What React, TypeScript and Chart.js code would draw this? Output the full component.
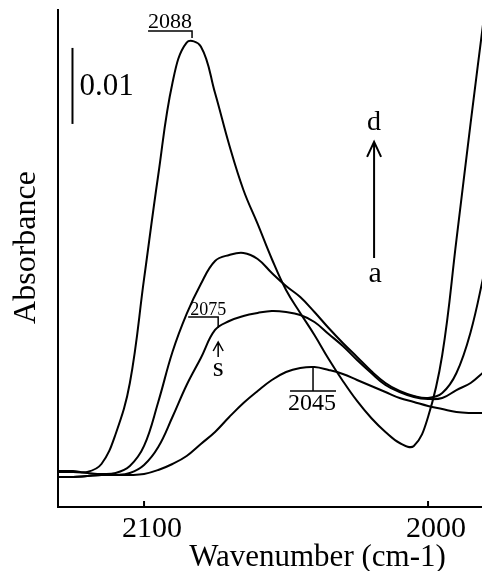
import React, { useEffect, useRef } from "react";
import { Chart, registerables } from "chart.js";

Chart.register(...registerables);

// Wavenumber grid (cm-1)
const wavenumbers = [
  2130, 2125, 2120, 2115, 2110, 2105, 2100, 2095, 2090, 2085, 2080, 2075, 2070, 2065, 2060, 2055,
  2050, 2045, 2040, 2035, 2030, 2025, 2020, 2015, 2010, 2005, 2000, 1995, 1990, 1985, 1980,
];

// Absorbance spectra a -> d
const absA = [
  0.00395, 0.00395, 0.00408, 0.00421, 0.00421, 0.00421, 0.00434, 0.00487, 0.00566, 0.00671, 0.00829,
  0.00987, 0.01184, 0.01368, 0.01526, 0.01671, 0.01776, 0.01829, 0.01842, 0.01803, 0.0175, 0.01671,
  0.01592, 0.01513, 0.01434, 0.01382, 0.01329, 0.01289, 0.0125, 0.01237, 0.01237,
];
const absB = [
  0.00395, 0.00395, 0.00408, 0.00421, 0.00421, 0.00447, 0.00553, 0.00789, 0.01184, 0.01605, 0.01961,
  0.02329, 0.02447, 0.02513, 0.02553, 0.02579, 0.02566, 0.02526, 0.02434, 0.02276, 0.02118, 0.01934,
  0.01763, 0.01605, 0.01513, 0.01447, 0.01421, 0.01434, 0.01539, 0.01632, 0.01789,
];
const absC = [
  0.00461, 0.00461, 0.00447, 0.00434, 0.00447, 0.00539, 0.00803, 0.01382, 0.02039, 0.0254, 0.02934,
  0.03237, 0.03316, 0.03342, 0.03263, 0.03079, 0.02908, 0.02763, 0.02566, 0.02355, 0.02158, 0.01974,
  0.01789, 0.01632, 0.01526, 0.01461, 0.01434, 0.015, 0.01763, 0.02303, 0.03118,
];
const absD = [
  0.00474, 0.00474, 0.00461, 0.00566, 0.00961, 0.01632, 0.03, 0.04368, 0.05579, 0.0611, 0.0606,
  0.05447, 0.04763, 0.04171, 0.03724, 0.03263, 0.02855, 0.02553, 0.02263, 0.01947, 0.01658, 0.01395,
  0.01171, 0.00987, 0.00842, 0.00803, 0.01184, 0.02, 0.03513, 0.05053, 0.06539,
];

const xTicks = [2100, 2000];
const xMin = 1981;
const xMax = 2130.3;
const yMax = 0.06539;

// Annotation anchors (wavenumber, absorbance)
const peak2088 = { label: "2088", wn: 2083.1, abs: 0.0617 };
const shoulder2075 = { label: "2075", wn: 2073.9, abs: 0.02355 };
const peak2045 = { label: "2045", wn: 2040.5, abs: 0.01842 };
const seriesArrow = { wn: 2019, from: 0.03276, to: 0.04803, start: "a", end: "d", startAbs: 0.0296, endAbs: 0.0496 };
const scaleBar = { wn: 2125.2, top: 0.0604, size: 0.01, label: "0.01" };

const SERIF = '"Liberation Serif", "Times New Roman", serif';

const annotations = {
  id: "annotations",
  afterDraw(chart: any) {
    const ctx = chart.ctx as CanvasRenderingContext2D;
    const xs = chart.scales.x;
    const ys = chart.scales.y;
    const px = (w: number) => xs.getPixelForValue(w);
    const py = (a: number) => ys.getPixelForValue(a);
    const area = chart.chartArea;
    ctx.save();
    ctx.strokeStyle = "#000";
    ctx.fillStyle = "#000";
    ctx.lineCap = "butt";

    // inward ticks
    ctx.lineWidth = 2;
    for (const t of xTicks) {
      const x = px(t);
      ctx.beginPath();
      ctx.moveTo(x, area.bottom);
      ctx.lineTo(x, area.bottom - 6);
      ctx.stroke();
    }

    // axis titles
    ctx.font = `31px ${SERIF}`;
    ctx.textAlign = "center";
    ctx.textBaseline = "alphabetic";
    ctx.fillText("Wavenumber (cm-1)", 317.5, 566);

    ctx.save();
    ctx.translate(35, 247.5);
    ctx.rotate(-Math.PI / 2);
    ctx.font = `32px ${SERIF}`;
    ctx.fillText("Absorbance", 0, 0);
    ctx.restore();

    // 2088 bracket
    {
      const ax = px(peak2088.wn);
      const ay = py(peak2088.abs);
      ctx.lineWidth = 1.5;
      ctx.beginPath();
      ctx.moveTo(ax, ay);
      ctx.lineTo(ax, ay - 7);
      ctx.lineTo(ax - 44, ay - 7);
      ctx.stroke();
      ctx.font = `22px ${SERIF}`;
      ctx.textAlign = "right";
      ctx.fillText(peak2088.label, ax, ay - 10);
    }

    // 2075 bracket and s arrow
    {
      const ax = px(shoulder2075.wn);
      const ay = py(shoulder2075.abs);
      ctx.lineWidth = 1.5;
      ctx.beginPath();
      ctx.moveTo(ax, ay);
      ctx.lineTo(ax, ay - 11);
      ctx.lineTo(ax - 30, ay - 11);
      ctx.stroke();
      ctx.font = `18px ${SERIF}`;
      ctx.textAlign = "left";
      ctx.fillText(shoulder2075.label, ax - 28, ay - 13);
      ctx.beginPath();
      ctx.moveTo(ax, ay + 29);
      ctx.lineTo(ax, ay + 14);
      ctx.moveTo(ax - 5, ay + 23);
      ctx.lineTo(ax, ay + 14);
      ctx.lineTo(ax + 5, ay + 23);
      ctx.stroke();
      ctx.font = `28px ${SERIF}`;
      ctx.textAlign = "center";
      ctx.fillText("s", ax, ay + 48);
    }

    // 2045 bracket
    {
      const ax = px(peak2045.wn);
      const ay = py(peak2045.abs);
      ctx.lineWidth = 1.5;
      ctx.beginPath();
      ctx.moveTo(ax, ay);
      ctx.lineTo(ax, ay + 24);
      ctx.moveTo(ax - 23, ay + 24);
      ctx.lineTo(ax + 23, ay + 24);
      ctx.stroke();
      ctx.font = `24px ${SERIF}`;
      ctx.textAlign = "center";
      ctx.fillText(peak2045.label, ax - 1, ay + 43);
    }

    // a -> d arrow
    {
      const x = px(seriesArrow.wn);
      const y0 = py(seriesArrow.from);
      const y1 = py(seriesArrow.to);
      ctx.lineWidth = 2;
      ctx.beginPath();
      ctx.moveTo(x, y0);
      ctx.lineTo(x, y1);
      ctx.moveTo(x - 7, y1 + 15);
      ctx.lineTo(x, y1);
      ctx.lineTo(x + 7, y1 + 15);
      ctx.stroke();
      ctx.textAlign = "center";
      ctx.font = `28px ${SERIF}`;
      ctx.fillText(seriesArrow.end, x, py(seriesArrow.endAbs));
      ctx.font = `30px ${SERIF}`;
      ctx.fillText(seriesArrow.start, x + 1, py(seriesArrow.startAbs));
    }

    // scale bar
    {
      const x = px(scaleBar.wn);
      const yt = py(scaleBar.top);
      const yb = py(scaleBar.top - scaleBar.size);
      ctx.lineWidth = 2;
      ctx.beginPath();
      ctx.moveTo(x, yt);
      ctx.lineTo(x, yb);
      ctx.stroke();
      ctx.font = `31px ${SERIF}`;
      ctx.textAlign = "left";
      ctx.fillText(scaleBar.label, x + 7, yb - 29);
    }

    ctx.restore();
  },
};

export default function App() {
  const canvasRef = useRef<HTMLCanvasElement | null>(null);

  useEffect(() => {
    const canvas = canvasRef.current;
    if (!canvas) return;
    const series = [absA, absB, absC, absD];
    const chart = new Chart(canvas, {
      type: "line",
      data: {
        datasets: series.map((vals, k) => ({
          label: ["a", "b", "c", "d"][k],
          data: wavenumbers.map((w, i) => ({ x: w, y: vals[i] })),
          borderColor: "#000",
          borderWidth: 2,
          pointRadius: 0,
          fill: false,
          tension: 0.4,
        })),
      },
      options: {
        animation: false,
        responsive: false,
        events: [],
        layout: { padding: { left: 0, right: 0, top: 10, bottom: 0 } },
        plugins: { legend: { display: false }, tooltip: { enabled: false } },
        scales: {
          x: {
            type: "linear",
            reverse: true,
            min: xMin,
            max: xMax,
            grid: { display: false },
            border: { display: true, color: "#000", width: 2 },
            ticks: {
              color: "#000",
              font: { family: SERIF, size: 30 },
              padding: -4,
              labelOffset: 8,
              autoSkip: false,
              maxRotation: 0,
              callback: (v: any) => String(v),
            },
            afterBuildTicks: (s: any) => {
              s.ticks = xTicks.map((v) => ({ value: v }));
            },
            afterFit: (s: any) => {
              s.height = 64;
            },
          },
          y: {
            type: "linear",
            min: 0,
            max: yMax,
            grid: { display: false },
            border: { display: true, color: "#000", width: 2 },
            ticks: { display: false },
            afterFit: (s: any) => {
              s.width = 58;
            },
          },
        },
      } as any,
      plugins: [annotations],
    });
    return () => chart.destroy();
  }, []);

  return (
    <div style={{ position: "fixed", left: 0, top: 0, width: 482, height: 571, background: "#fff" }}>
      <canvas ref={canvasRef} width={482} height={571} />
    </div>
  );
}
